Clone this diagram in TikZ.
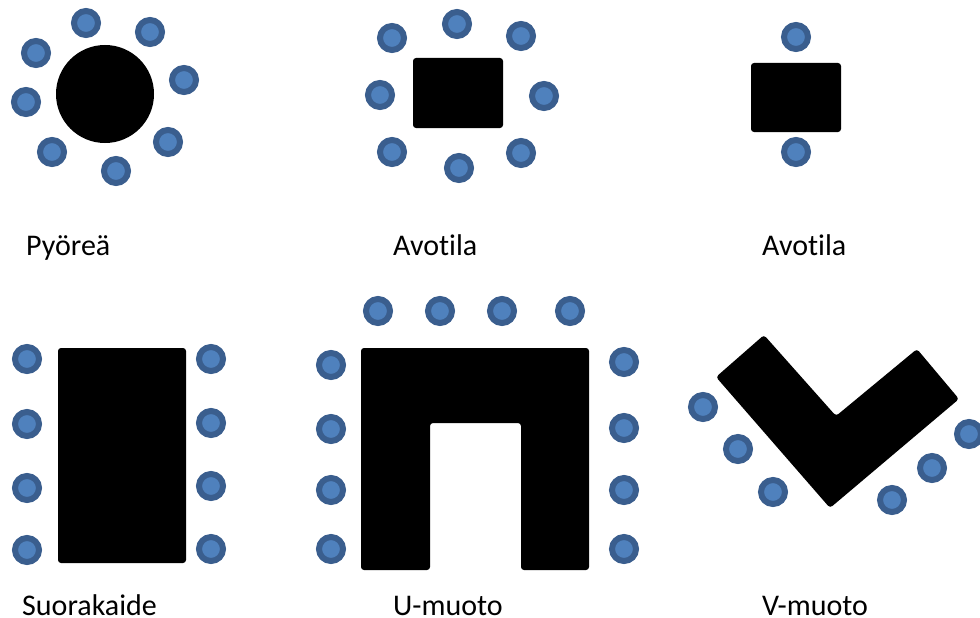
\documentclass[tikz,border=0pt]{standalone}
\usepackage{fontspec}
\setmainfont[Ligatures=NoCommon]{Carlito}
\usepackage{tikz}
\usetikzlibrary{positioning}
\definecolor{tuoliulko}{HTML}{3A5E8E}
\definecolor{tuolisisa}{HTML}{4F81BD}
\tikzset{
  tuoli/.style={circle, draw=tuoliulko, fill=tuolisisa, line width=6pt,
                minimum size=24pt, inner sep=0pt},
  poyta/.style={rectangle, fill=black, rounded corners=3pt, inner sep=0pt},
  nimi/.style={anchor=base west, inner sep=0pt, font=\fontsize{30}{34}\selectfont}
}
\begin{document}
\begin{tikzpicture}[x=1pt, y=-1pt]
  \useasboundingbox (0,0) rectangle (980,618);
  % pyorea
  \node[circle, fill=black, minimum size=98pt, inner sep=0pt] (pyo) at (105,94) {};
  \foreach \p [count=\i] in {(86,23),(150,32),(36,53),(184,80),(26,102),(168,142),(52,152),(116,171)}
    \node[tuoli] (a\i) at \p {};
  \node[nimi] (nA) at (26,255) {Pyöreä};
  % avotila 1
  \node[poyta, minimum width=90pt, minimum height=70pt] (av1) at (458,93) {};
  \foreach \p [count=\i] in {(457,24),(392,38),(521,36),(380,95),(544,96),(392,152),(521,153),(459,168)}
    \node[tuoli] (b\i) at \p {};
  \node[nimi] (nB) at (393,255) {Avotila};
  % avotila 2
  \node[poyta, minimum width=90pt, minimum height=69pt] (av2) at (796,97.5) {};
  \node[tuoli] (c1) at (796,37) {};
  \node[tuoli] (c2) at (796,152) {};
  \node[nimi] (nC) at (762,255) {Avotila};
  % suorakaide
  \node[poyta, minimum width=128pt, minimum height=215pt] (suo) at (122,455.5) {};
  \foreach \y [count=\i] in {359,424,488,550}
    \node[tuoli] (d\i) at (27,\y) {};
  \foreach \y [count=\i] in {359,423,486,549}
    \node[tuoli] (e\i) at (211,\y) {};
  \node[nimi] (nD) at (22,615) {Suorakaide};
  % u-muoto
  \fill[rounded corners=3pt] (361,348) -- (589,348) -- (589,570) -- (521,570)
    -- (521,423) -- (430,423) -- (430,570) -- (361,570) -- cycle;
  \foreach \x [count=\i] in {378,440,502,570}
    \node[tuoli] (f\i) at (\x,311) {};
  \foreach \y [count=\i] in {365,429,490,549}
    \node[tuoli] (g\i) at (331,\y) {};
  \foreach \y [count=\i] in {362,428,490,549}
    \node[tuoli] (h\i) at (624,\y) {};
  \node[nimi] (nE) at (393,615) {U-muoto};
  % v-muoto
  \fill[rounded corners=3pt] (764,335) -- (836,416) -- (917,349) -- (959,399)
    -- (830,508) -- (716,377) -- cycle;
  \foreach \p [count=\i] in {(703,407),(738,449),(773,492),(892,500),(932,468),(969,434)}
    \node[tuoli] (k\i) at \p {};
  \node[nimi] (nF) at (762,615) {V-muoto};
\end{tikzpicture}
\end{document}
